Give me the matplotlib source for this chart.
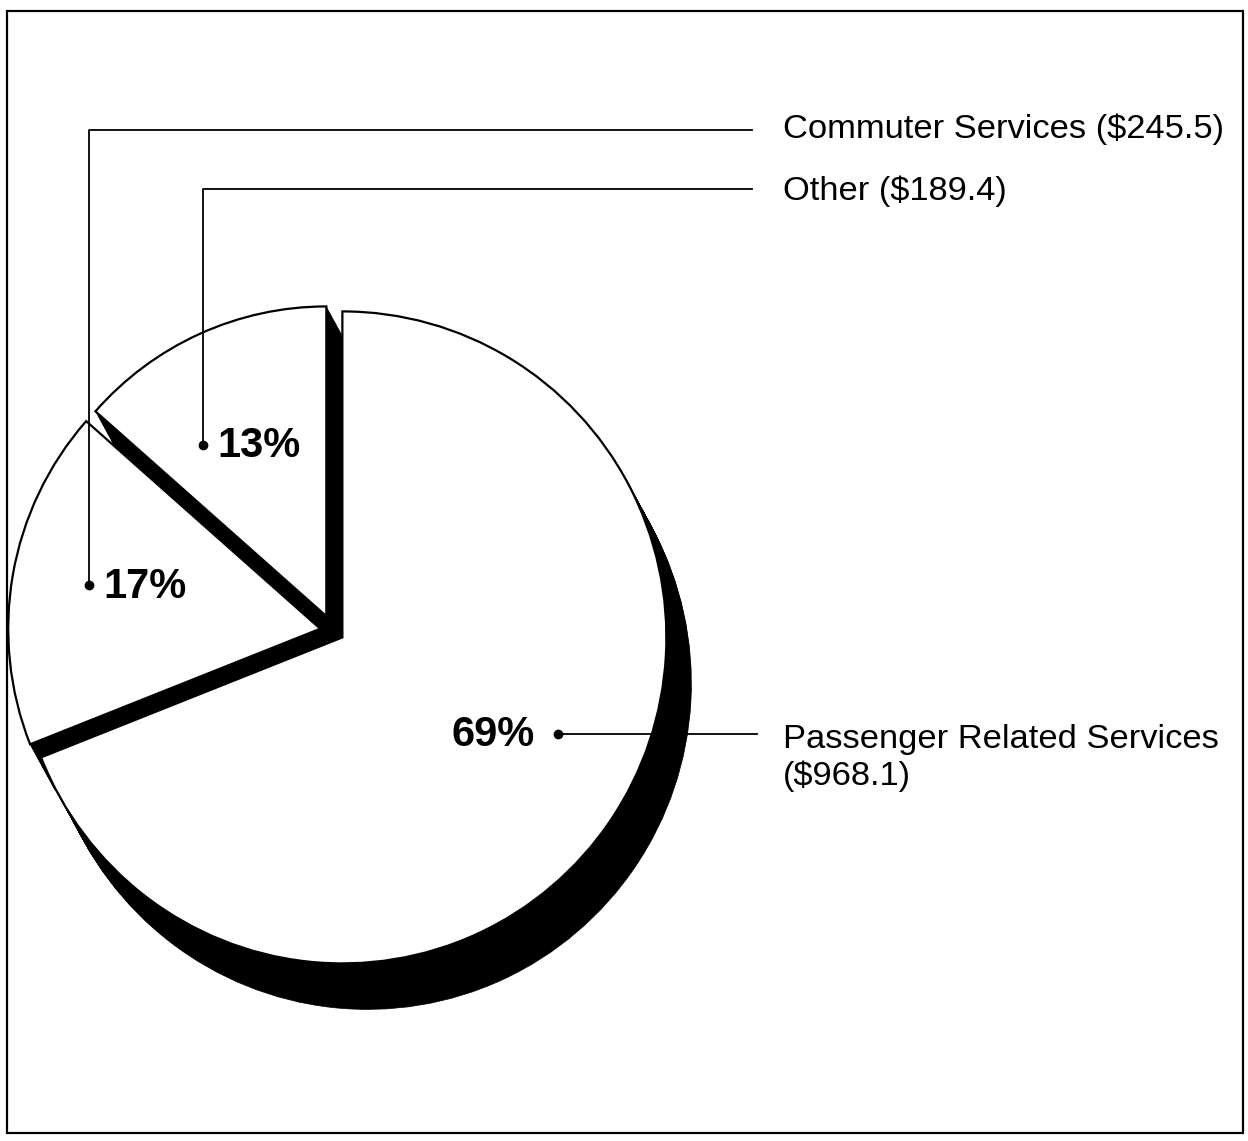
import matplotlib.pyplot as plt
from matplotlib.patches import Rectangle

# revenue by service line ($ millions)
values = [968.1, 245.5, 189.4]
pct_labels = ['69%', '17%', '13%']
name_labels = ['Passenger Related Services', 'Commuter Services ($245.5)', 'Other ($189.4)']
name_second_line = '($968.1)'

explode = [0.035, 0.04, 0.05]
radius_scale = [1.0, 0.963, 0.95]

W, H = 1248, 1141
CX, CY = 333, 631      # pie centre, pixels
RX, RY = 324, 326      # pixels per pie unit
SHADOW = (25, 46)      # extrusion of the black side, pixels

plt.rcParams['font.family'] = ['Liberation Sans', 'DejaVu Sans']

fig = plt.figure(figsize=(W / 100, H / 100), dpi=100)
ax = fig.add_axes([0, 0, 1, 1])


def draw_pie(center, color, lw):
    wedges, _ = ax.pie(values, explode=explode, startangle=90, counterclock=False,
                       center=center, colors=[color] * len(values),
                       wedgeprops=dict(edgecolor='black', linewidth=lw))
    for w, s in zip(wedges, radius_scale):
        w.set_radius(s)
    return wedges


# black side, swept from the face towards the lower right
steps = 40
for k in range(steps + 1):
    t = k / steps
    draw_pie((t * SHADOW[0] / RX, -t * SHADOW[1] / RY), 'black', 0.5)
draw_pie((0, 0), 'white', 1.6)

ax.set_xlim(-CX / RX, (W - CX) / RX)
ax.set_ylim(-(H - CY) / RY, CY / RY)
ax.set_aspect('auto')
ax.axis('off')

# overlay in pixel units for frame, leaders and labels
ov = fig.add_axes([0, 0, 1, 1])
ov.set_xlim(0, W)
ov.set_ylim(H, 0)
ov.axis('off')

ov.add_patch(Rectangle((7, 11), 1236, 1122, fill=False, edgecolor='black', linewidth=1.6))

lw = 1.3
# commuter (17%)
ov.plot([89, 89, 752], [585, 130, 130], color='black', lw=lw)
ov.plot(89, 585, 'o', color='black', ms=6)
# other (13%)
ov.plot([203, 203, 752], [445, 189, 189], color='black', lw=lw)
ov.plot(203, 445, 'o', color='black', ms=6)
# passenger (69%)
ov.plot([558, 757], [734, 734], color='black', lw=lw)
ov.plot(558, 734, 'o', color='black', ms=6)

pct_kw = dict(fontsize=30, fontweight='bold', va='baseline')
ov.text(535, 746, pct_labels[0], ha='right', **pct_kw)
ov.text(103, 598, pct_labels[1], ha='left', **pct_kw)
ov.text(217, 457, pct_labels[2], ha='left', **pct_kw)

name_kw = dict(fontsize=24.8, va='baseline', ha='left')
ov.text(783, 748, name_labels[0], **name_kw)
ov.text(783, 785, name_second_line, **name_kw)
ov.text(783, 138, name_labels[1], **name_kw)
ov.text(783, 200, name_labels[2], **name_kw)

fig.savefig('out.png', dpi=100)
